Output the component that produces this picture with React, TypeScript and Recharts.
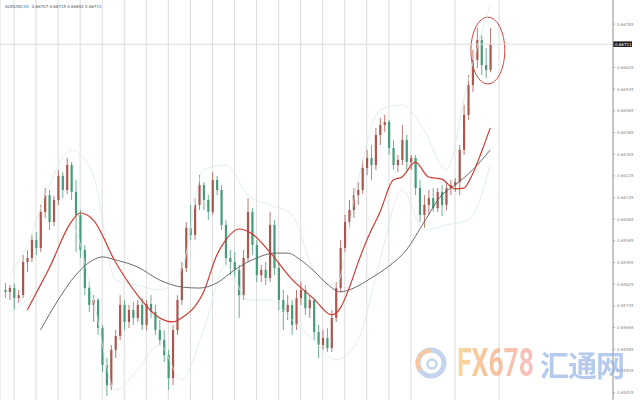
import React from 'react';
import {
  ComposedChart,
  Bar,
  Line,
  XAxis,
  YAxis,
  CartesianGrid,
  ReferenceLine,
  ReferenceArea,
} from 'recharts';

const headerText = 'AUDUSD,H1  0.66707 0.66715 0.66692 0.66711';
const lastPrice = 0.66711;

// hourly bars, oldest first
const opens = [
  0.65804, 0.65797, 0.65811, 0.65774, 0.65785, 0.65907, 0.65922, 0.65988, 0.65959, 0.66092,
  0.66154, 0.66055, 0.66136, 0.66225, 0.66173, 0.66265, 0.66166, 0.66081, 0.65952, 0.65811,
  0.65749, 0.65767, 0.65664, 0.65527, 0.65453, 0.65583, 0.65634, 0.65749, 0.65686, 0.65730,
  0.65701, 0.65749, 0.65675, 0.65752, 0.65723, 0.65656, 0.65619, 0.65564, 0.65479, 0.65656,
  0.65767, 0.65885, 0.66033, 0.66007, 0.66118, 0.66191, 0.66136, 0.66092, 0.66210, 0.66173,
  0.66044, 0.65922, 0.65907, 0.65878, 0.65785, 0.65922, 0.66092, 0.65970, 0.65859, 0.65878,
  0.65848, 0.66044, 0.65885, 0.65767, 0.65723, 0.65749, 0.65675, 0.65774, 0.65804, 0.65737,
  0.65767, 0.65649, 0.65601, 0.65627, 0.65590, 0.65701, 0.65811, 0.65959, 0.66055, 0.66099,
  0.66154, 0.66173, 0.66254, 0.66291, 0.66265, 0.66376, 0.66413, 0.66424, 0.66328, 0.66265,
  0.66284, 0.66357, 0.66276, 0.66291, 0.66180, 0.66081, 0.66118, 0.66143, 0.66106, 0.66166,
  0.66118, 0.66180, 0.66191, 0.66202, 0.66321, 0.66450, 0.66560, 0.66653, 0.66726, 0.66634,
  0.66616,
];
const highs = [
  0.65830, 0.65822, 0.65826, 0.65804, 0.65933, 0.65951, 0.66007, 0.66018, 0.66118, 0.66180,
  0.66173, 0.66151, 0.66247, 0.66239, 0.66291, 0.66276, 0.66210, 0.66099, 0.65970, 0.65833,
  0.65785, 0.65774, 0.65675, 0.65553, 0.65601, 0.65656, 0.65785, 0.65767, 0.65749, 0.65760,
  0.65767, 0.65774, 0.65767, 0.65785, 0.65749, 0.65693, 0.65656, 0.65583, 0.65675, 0.65785,
  0.65907, 0.66055, 0.66118, 0.66143, 0.66228, 0.66202, 0.66154, 0.66239, 0.66225, 0.66191,
  0.66062, 0.65952, 0.65944, 0.65896, 0.65952, 0.66143, 0.66106, 0.65988, 0.65896, 0.65907,
  0.66092, 0.66062, 0.65907, 0.65804, 0.65785, 0.65767, 0.65804, 0.65833, 0.65822, 0.65785,
  0.65774, 0.65675, 0.65656, 0.65664, 0.65730, 0.65833, 0.65988, 0.66081, 0.66136, 0.66180,
  0.66202, 0.66284, 0.66321, 0.66339, 0.66402, 0.66439, 0.66450, 0.66431, 0.66357, 0.66302,
  0.66413, 0.66376, 0.66302, 0.66302, 0.66210, 0.66154, 0.66173, 0.66180, 0.66180, 0.66191,
  0.66202, 0.66210, 0.66217, 0.66339, 0.66487, 0.66597, 0.66690, 0.66771, 0.66745, 0.66697,
  0.66771,
];
const lows = [
  0.65774, 0.65767, 0.65730, 0.65756, 0.65774, 0.65870, 0.65907, 0.65933, 0.65944, 0.66070,
  0.66025, 0.66040, 0.66118, 0.66143, 0.66158, 0.66136, 0.65944, 0.65922, 0.65785, 0.65723,
  0.65686, 0.65638, 0.65501, 0.65413, 0.65435, 0.65553, 0.65619, 0.65656, 0.65664, 0.65675,
  0.65686, 0.65656, 0.65656, 0.65701, 0.65638, 0.65601, 0.65538, 0.65435, 0.65453, 0.65638,
  0.65749, 0.65870, 0.65988, 0.65988, 0.66099, 0.66099, 0.66062, 0.66081, 0.66154, 0.66025,
  0.65896, 0.65859, 0.65848, 0.65701, 0.65767, 0.65907, 0.65933, 0.65833, 0.65833, 0.65822,
  0.65833, 0.65859, 0.65730, 0.65656, 0.65693, 0.65638, 0.65656, 0.65749, 0.65712, 0.65701,
  0.65619, 0.65553, 0.65583, 0.65575, 0.65575, 0.65686, 0.65797, 0.65944, 0.66033, 0.66070,
  0.66118, 0.66158, 0.66228, 0.66210, 0.66247, 0.66339, 0.66387, 0.66302, 0.66247, 0.66239,
  0.66265, 0.66247, 0.66247, 0.66154, 0.66055, 0.66033, 0.66081, 0.66092, 0.66092, 0.66077,
  0.66099, 0.66154, 0.66166, 0.66154, 0.66302, 0.66431, 0.66535, 0.66623, 0.66597, 0.66586,
  0.66608,
];
const closes = [
  0.65797, 0.65811, 0.65774, 0.65785, 0.65907, 0.65922, 0.65988, 0.65959, 0.66092, 0.66154,
  0.66055, 0.66136, 0.66225, 0.66173, 0.66265, 0.66166, 0.66081, 0.65952, 0.65811, 0.65749,
  0.65767, 0.65664, 0.65527, 0.65453, 0.65583, 0.65634, 0.65749, 0.65686, 0.65730, 0.65701,
  0.65749, 0.65675, 0.65752, 0.65723, 0.65656, 0.65619, 0.65564, 0.65479, 0.65656, 0.65767,
  0.65885, 0.66033, 0.66007, 0.66118, 0.66191, 0.66136, 0.66092, 0.66210, 0.66173, 0.66044,
  0.65922, 0.65907, 0.65878, 0.65785, 0.65922, 0.66092, 0.65970, 0.65859, 0.65878, 0.65848,
  0.66044, 0.65885, 0.65767, 0.65723, 0.65749, 0.65675, 0.65774, 0.65804, 0.65737, 0.65767,
  0.65649, 0.65601, 0.65627, 0.65590, 0.65701, 0.65811, 0.65959, 0.66055, 0.66099, 0.66154,
  0.66173, 0.66254, 0.66291, 0.66265, 0.66376, 0.66413, 0.66424, 0.66328, 0.66265, 0.66284,
  0.66357, 0.66276, 0.66291, 0.66180, 0.66081, 0.66118, 0.66143, 0.66106, 0.66166, 0.66118,
  0.66180, 0.66191, 0.66202, 0.66321, 0.66450, 0.66560, 0.66653, 0.66726, 0.66634, 0.66616,
  0.66711,
];

// moving averages, read at a few bars each
const fastMaIdx = [5, 10, 15, 17, 20, 25, 30, 35, 38, 40, 45, 48, 50, 53, 56, 60, 65, 70, 74, 76, 78, 80, 82, 85, 88, 90, 93, 96, 99, 102, 104, 106, 108, 110];
const fastMaVal = [
  0.65730, 0.65885, 0.66055, 0.66088, 0.66062, 0.65907, 0.65785, 0.65701, 0.65686, 0.65701,
  0.65797, 0.65933, 0.65988, 0.66029, 0.66011, 0.65944, 0.65844, 0.65771, 0.65712, 0.65737,
  0.65811, 0.65904, 0.65988, 0.66092, 0.66210, 0.66221, 0.66276, 0.66221, 0.66213, 0.66177,
  0.66180, 0.66232, 0.66313, 0.66402,
];
const slowMaIdx = [8, 12, 16, 20, 22, 25, 30, 35, 40, 44, 48, 52, 57, 61, 64, 67, 70, 73, 76, 79, 83, 87, 91, 95, 99, 102, 106, 110];
const slowMaVal = [
  0.65656, 0.65767, 0.65859, 0.65915, 0.65926, 0.65915, 0.65889, 0.65841, 0.65815, 0.65811,
  0.65830, 0.65878, 0.65922, 0.65940, 0.65940, 0.65915, 0.65874, 0.65826, 0.65797, 0.65811,
  0.65848, 0.65892, 0.65952, 0.66055, 0.66154, 0.66191, 0.66247, 0.66321,
];
const bandIdx = [1, 5, 10, 15, 20, 25, 30, 35, 40, 45, 50, 55, 60, 65, 70, 75, 80, 85, 90, 95, 100, 105, 110];
const bandUpper = [
  0.65859, 0.65970, 0.66191, 0.66321, 0.66228, 0.65841, 0.65822, 0.65804, 0.65878, 0.66247,
  0.66265, 0.66154, 0.66118, 0.66081, 0.65878, 0.65822, 0.66210, 0.66468, 0.66487, 0.66394,
  0.66247, 0.66579, 0.66856,
];
const bandLower = [
  0.65723, 0.65767, 0.65878, 0.66044, 0.65767, 0.65435, 0.65509, 0.65601, 0.65472, 0.65656,
  0.65896, 0.65767, 0.65767, 0.65693, 0.65619, 0.65546, 0.65619, 0.65915, 0.66173, 0.66025,
  0.66044, 0.66062, 0.66265,
];

const priceTicks = [
  0.66785, 0.66625, 0.66545, 0.66465, 0.66385, 0.66305, 0.66225, 0.66145, 0.66065,
  0.65985, 0.65905, 0.65825, 0.65745, 0.65665, 0.65585, 0.65505, 0.65425,
];
// day separators (bar positions)
const dayBreaks = [2, 7, 12, 17, 22, 27, 32, 37, 42, 47, 52, 57, 62, 67, 72, 77, 82, 87, 92, 97, 102, 107, 112];

type Row = {
  i: number;
  open: number;
  high: number;
  low: number;
  close: number;
  range: [number, number];
  fast: number | null;
  slow: number | null;
  upper: number | null;
  lower: number | null;
};

const data: Row[] = closes.map((c, i) => ({
  i,
  open: opens[i],
  high: highs[i],
  low: lows[i],
  close: c,
  range: [lows[i], highs[i]],
  fast: null,
  slow: null,
  upper: null,
  lower: null,
}));
fastMaIdx.forEach((idx, k) => { data[idx].fast = fastMaVal[k]; });
slowMaIdx.forEach((idx, k) => { data[idx].slow = slowMaVal[k]; });
bandIdx.forEach((idx, k) => {
  data[idx].upper = bandUpper[k];
  data[idx].lower = bandLower[k];
});

const Candle = (props: any) => {
  const { x, y, width, height, payload } = props;
  if (!payload) return null;
  const top = Math.min(y, y + height);
  const h = Math.abs(height);
  const span = payload.high - payload.low;
  const k = span > 0 ? h / span : 0;
  const yOf = (v: number) => top + (payload.high - v) * k;
  const cx = x + width / 2;
  const up = payload.close >= payload.open;
  const color = up ? '#a9574f' : '#459c77';
  const bTop = yOf(Math.max(payload.open, payload.close));
  const bBot = yOf(Math.min(payload.open, payload.close));
  return (
    <g>
      <line x1={cx} x2={cx} y1={top} y2={top + h} stroke={color} strokeWidth={0.8} />
      <rect x={cx - 1.1} y={bTop} width={2.2} height={Math.max(0.8, bBot - bTop)} fill={color} />
    </g>
  );
};

const PriceTag = (props: any) => {
  const vb = props.viewBox;
  if (!vb) return null;
  const left = vb.x + vb.width;
  return (
    <g>
      <rect x={left} y={vb.y - 2.8} width={19} height={5.6} fill="#1e1e1e" />
      <text x={left + 2} y={vb.y + 1.4} fontSize={4} fill="#fff" fontFamily="DejaVu Sans">
        {lastPrice.toFixed(5)}
      </text>
    </g>
  );
};

const RingMark = (props: any) => {
  const { x, y, width, height } = props;
  return (
    <ellipse
      cx={x + width / 2}
      cy={y + height / 2}
      rx={width / 2}
      ry={height / 2}
      fill="none"
      stroke="#d1473f"
      strokeWidth={1}
    />
  );
};

const Watermark = () => (
  <div style={{ position: 'absolute', left: 0, top: 0, width: 640, height: 400, pointerEvents: 'none' }}>
    <svg width={34} height={34} style={{ position: 'absolute', left: 414, top: 346, opacity: 0.6 }}>
      <circle cx={17} cy={17} r={13} fill="none" stroke="#9fb9e4" strokeWidth={5} />
      <path d="M17 5 A12 12 0 0 0 6 24" fill="none" stroke="#f2a461" strokeWidth={4} />
      <circle cx={18} cy={18} r={4.5} fill="none" stroke="#9fb9e4" strokeWidth={2.5} />
    </svg>
    <div
      style={{
        position: 'absolute',
        left: 457,
        top: 340,
        fontFamily: 'Roboto',
        fontWeight: 700,
        fontSize: 39,
        lineHeight: '46px',
        transform: 'scaleX(0.68)',
        transformOrigin: 'left top',
        background: 'linear-gradient(90deg, #f7c46c, #f4a467 40%, #f2a0a0)',
        WebkitBackgroundClip: 'text',
        color: 'transparent',
        opacity: 0.65,
      }}
    >
      FX678
    </div>
    <div
      style={{
        position: 'absolute',
        left: 540,
        top: 344,
        fontFamily: '"Noto Sans CJK SC"',
        fontWeight: 700,
        fontSize: 29,
        lineHeight: '40px',
        color: '#8eaee2',
        opacity: 0.65,
        letterSpacing: -1,
      }}
    >
      汇通网
    </div>
  </div>
);

export default function App() {
  return (
    <div style={{ position: 'absolute', left: 0, top: 0, width: 640, height: 400, background: '#fff' }}>
      <ComposedChart width={640} height={400} data={data} margin={{ top: 0, right: 0, bottom: 0, left: 0 }}>
        <CartesianGrid horizontal={false} stroke="#dcdcdc" />
        <XAxis
          dataKey="i"
          type="number"
          domain={[-1.175, 137.83]}
          ticks={dayBreaks}
          allowDataOverflow
          hide
        />
        <YAxis
          orientation="right"
          width={27}
          domain={[0.65398, 0.66874]}
          allowDataOverflow
          ticks={priceTicks}
          interval={0}
          tickSize={2}
          tickLine={{ stroke: '#a8a8a8' }}
          axisLine={{ stroke: '#a0a0a0' }}
          tick={{ fontSize: 4, fill: '#8a8a8a', fontFamily: 'DejaVu Sans' }}
          tickFormatter={(v: number) => v.toFixed(5)}
        />
        <ReferenceLine y={lastPrice} stroke="#dcdcdc" label={<PriceTag />} />
        <Line dataKey="upper" type="monotone" connectNulls dot={false} activeDot={false} stroke="#d6ece7" strokeWidth={0.8} isAnimationActive={false} />
        <Line dataKey="lower" type="monotone" connectNulls dot={false} activeDot={false} stroke="#d6ece7" strokeWidth={0.8} isAnimationActive={false} />
        <Bar dataKey="range" barSize={3} shape={<Candle />} isAnimationActive={false} />
        <Line dataKey="slow" type="monotone" connectNulls dot={false} activeDot={false} stroke="#5a5a5a" strokeWidth={0.9} isAnimationActive={false} />
        <Line dataKey="fast" type="monotone" connectNulls dot={false} activeDot={false} stroke="#cf3b35" strokeWidth={1.2} isAnimationActive={false} />
        <ReferenceArea x1={105.6} x2={113.3} y1={0.66564} y2={0.66811} shape={<RingMark />} />
      </ComposedChart>
      <div
        style={{
          position: 'absolute',
          left: 5,
          top: 4,
          fontSize: 4,
          fontFamily: 'DejaVu Sans',
          color: '#555',
          whiteSpace: 'pre',
        }}
      >
        {headerText}
      </div>
      <Watermark />
    </div>
  );
}
